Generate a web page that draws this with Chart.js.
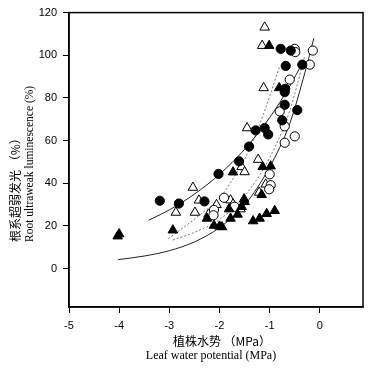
<!DOCTYPE html>
<html>
<head>
<meta charset="utf-8">
<script src="https://cdn.jsdelivr.net/npm/chart.js@4"></script>
<style>
  html, body { margin: 0; padding: 0; background: #fff; }
  #wrap { width: 372px; height: 374px; }
</style>
</head>
<body>
<div id="wrap"><canvas id="myChart" width="372" height="374"></canvas></div>
<script>
// filled circles
var fcX = [-3.19, -2.81, -2.30, -2.02, -1.61, -1.41, -1.28, -1.10, -1.03, -0.78, -0.58, -0.68, -0.69, -0.70, -0.70, -0.75, -0.45, -0.35];
var fcY = [31.8, 30.5, 31.5, 44.4, 50.3, 57.2, 64.8, 65.9, 62.9, 103, 102.2, 95, 84.3, 82.7, 76.8, 69.5, 74.3, 95.6];
// open circles
var ocX = [-0.50, -0.49, -0.14, -0.20, -0.60, -0.80, -0.70, -0.70, -0.50, -1.00, -0.98, -1.01, -1.91, -2.11, -2.12, -1.70];
var ocY = [103, 101.5, 102.2, 95.6, 88.6, 73.7, 66.7, 59, 62, 44.2, 39.1, 37.2, 33.2, 27.5, 25, 29];
// filled triangles
var ftX = [-4.03, -4.00, -2.93, -2.25, -2.11, -2.00, -1.95, -1.73, -1.81, -1.78, -1.64, -1.56, -1.51, -1.50, -1.33, -1.20, -1.06, -0.90, -1.16, -1.14, -0.98, -1.01, -0.81];
var ftY = [15.2, 16.2, 18, 23.5, 20.2, 19.8, 19.5, 45.2, 27.9, 23.5, 25.4, 29, 32.6, 31.3, 22.3, 23.5, 25.7, 27.1, 34.6, 47.7, 48, 104.5, 84.7];
// open triangles
var otX = [-2.87, -2.53, -2.49, -2.41, -2.22, -2.06, -1.78, -1.73, -1.58, -1.56, -1.50, -1.45, -1.23, -1.21, -1.12, -1.15, -1.10, -1.08];
var otY = [26.3, 38, 26.3, 32, 25.4, 29.9, 32.1, 30.2, 27.9, 47.7, 45.3, 65.9, 51.1, 35.7, 84.7, 104.5, 113.1, 39.5];

// fitted curves
var fitAX = [-3.41, -3.0, -2.5, -2.0, -1.5, -1.0, -0.6, -0.34];
var fitAY = [22.7, 27.5, 34.9, 44.2, 55.9, 70.8, 85.5, 96.7];
var fitBX = [-4.02, -3.5, -3.0, -2.5, -2.0, -1.5, -1.0, -0.6, -0.3, -0.12];
var fitBY = [4.2, 5.9, 8.4, 12.5, 19.2, 29.8, 47.6, 68, 91.7, 108];
var dotAX = [-3.02, -2.4, -2.0, -1.76, -1.4, -1.1, -0.8];
var dotAY = [14, 25, 33, 41, 56, 74, 95];
var dotBX = [-2.93, -2.5, -2.0, -1.5, -1.0, -0.6, -0.3];
var dotBY = [13.4, 17, 23, 34, 52, 74, 99.8];

var xTicks = [-5, -4, -3, -2, -1, 0];
var yTicks = [0, 20, 40, 60, 80, 100, 120];

function pts(xs, ys) {
    var out = [];
    for (var i = 0; i < xs.length; i++) out.push({x: xs[i], y: ys[i]});
    return out;
}

function marks(xs, ys, style, fill, r) {
    return {
        data: pts(xs, ys),
        pointStyle: style,
        pointRadius: r,
        pointBackgroundColor: fill,
        pointBorderColor: '#000',
        pointBorderWidth: 1,
        showLine: false
    };
}

function curve(xs, ys, dash, color) {
    return {
        data: pts(xs, ys),
        showLine: true,
        pointRadius: 0,
        borderColor: color,
        borderWidth: 1,
        borderDash: dash,
        cubicInterpolationMode: 'monotone',
        fill: false
    };
}

var framePlugin = {
    id: 'frame',
    afterDraw: function(chart) {
        var ctx = chart.ctx, a = chart.chartArea;
        ctx.save();
        ctx.strokeStyle = '#000';
        ctx.lineWidth = 1.5;
        ctx.strokeRect(a.left, a.top, a.right - a.left, a.bottom - a.top);

        ctx.fillStyle = '#000';
        ctx.textBaseline = 'middle';
        ctx.textAlign = 'center';
        ctx.font = '12px "Noto Sans CJK SC", "Liberation Serif", serif';
        ctx.fillText('植株水势 （MPa）', 222, 341);
        ctx.font = '12px "Liberation Serif", serif';
        ctx.fillText('Leaf water potential (MPa)', 211, 356);

        ctx.translate(15, 242);
        ctx.rotate(-Math.PI / 2);
        ctx.textAlign = 'left';
        ctx.font = '12px "Noto Sans CJK SC", "Liberation Serif", serif';
        ctx.fillText('根系超弱发光 （%）', 0, 0);
        ctx.font = '11.5px "Liberation Serif", serif';
        ctx.fillText('Root ultraweak luminescence (%)', 0, 15);
        ctx.restore();
    }
};

var ctx = document.getElementById('myChart').getContext('2d');
var chart = new Chart(ctx, {
    type: 'scatter',
    data: {
        datasets: [
            marks(fcX, fcY, 'circle', '#000', 4.6),
            marks(ftX, ftY, 'triangle', '#000', 5.5),
            marks(ocX, ocY, 'circle', '#fff', 4.6),
            marks(otX, otY, 'triangle', '#fff', 5.5),
            curve(fitAX, fitAY, [], '#222'),
            curve(fitBX, fitBY, [], '#222'),
            curve(dotAX, dotAY, [2, 2], '#777'),
            curve(dotBX, dotBY, [2, 2], '#777')
        ]
    },
    options: {
        responsive: false,
        animation: false,
        devicePixelRatio: 1,
        layout: { padding: { top: 12, right: 9, left: 0, bottom: 0 } },
        plugins: { legend: { display: false }, tooltip: { enabled: false } },
        scales: {
            x: {
                type: 'linear',
                min: -5,
                max: 0.86,
                afterBuildTicks: function(s) { s.ticks = xTicks.map(function(v) { return {value: v}; }); },
                afterFit: function(s) { s.height = 67; },
                grid: { drawOnChartArea: false, drawTicks: true, tickLength: 6, color: '#000' },
                border: { display: true, color: '#000', width: 1.5 },
                ticks: { color: '#000', padding: 6, maxRotation: 0, font: { family: '"Liberation Sans", Arial, sans-serif', size: 11 } }
            },
            y: {
                type: 'linear',
                min: -18,
                max: 120,
                afterBuildTicks: function(s) { s.ticks = yTicks.map(function(v) { return {value: v}; }); },
                afterFit: function(s) { s.width = 69; },
                grid: { drawOnChartArea: false, drawTicks: true, tickLength: 6, color: '#000' },
                border: { display: true, color: '#000', width: 1.5 },
                ticks: { color: '#000', padding: 6, font: { family: '"Liberation Sans", Arial, sans-serif', size: 11 } }
            }
        }
    },
    plugins: [framePlugin]
});
</script>
</body>
</html>
